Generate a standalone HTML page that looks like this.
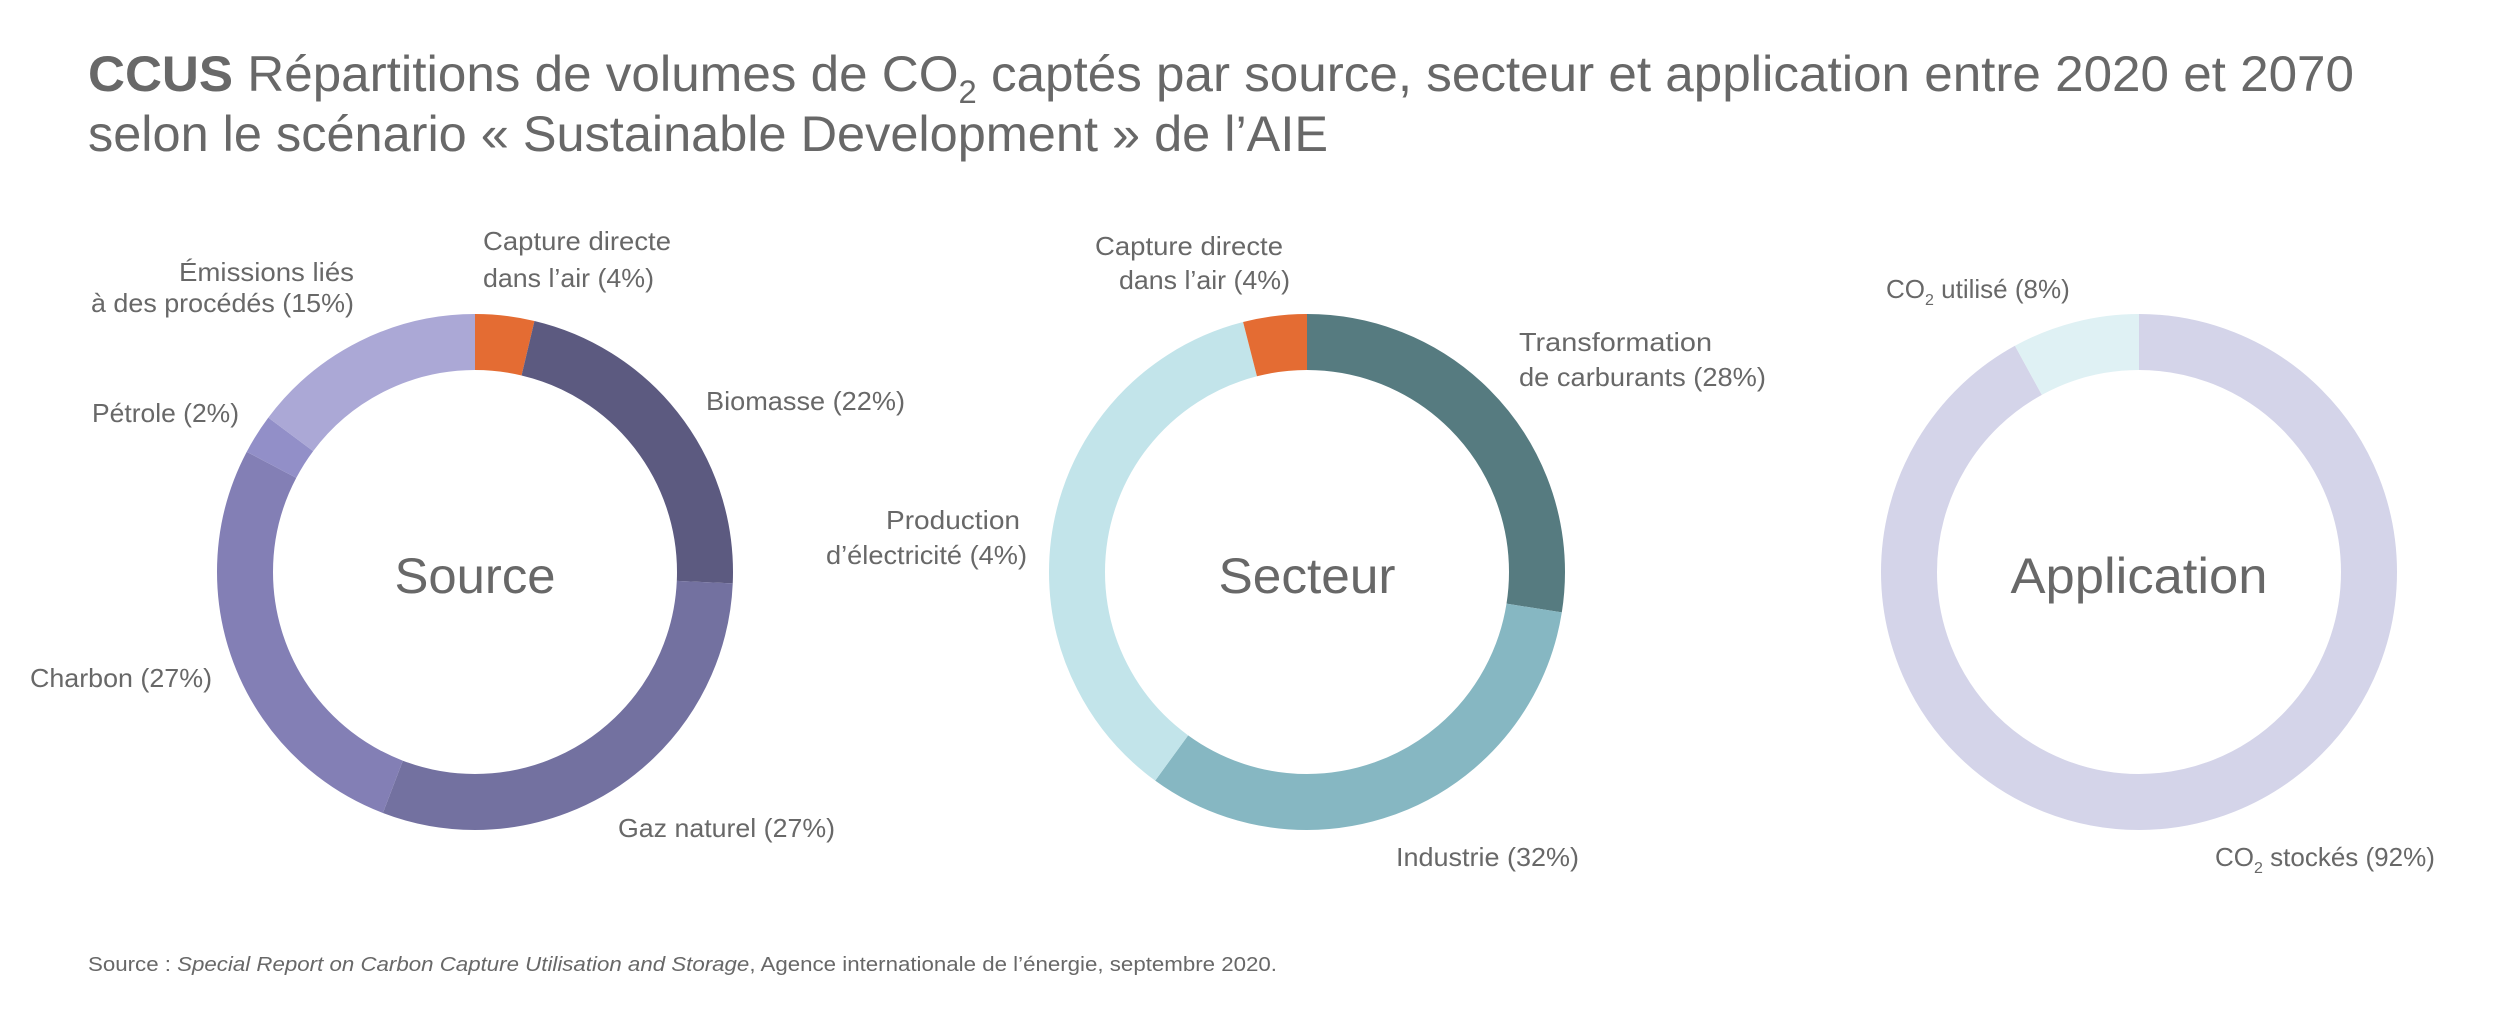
<!DOCTYPE html>
<html><head><meta charset="utf-8"><style>
html,body{margin:0;padding:0;background:#fff;}
svg{display:block;}
text{font-family:"Liberation Sans",sans-serif;fill:#686868;}
</style></head><body>
<svg width="2500" height="1011" viewBox="0 0 2500 1011" xmlns="http://www.w3.org/2000/svg">
<rect width="2500" height="1011" fill="#fff"/>
<text x="88" y="91" font-size="50" textLength="2266" lengthAdjust="spacingAndGlyphs"><tspan font-weight="bold">CCUS</tspan> Répartitions de volumes de CO<tspan font-size="32" dy="12">2</tspan><tspan dy="-12"> captés par source, secteur et application entre 2020 et 2070</tspan></text>
<text x="88" y="151" font-size="50" textLength="1240" lengthAdjust="spacingAndGlyphs">selon le scénario « Sustainable Development » de l’AIE</text>

<g fill="none" stroke-width="56">
<g transform="rotate(-90 475 572)">
<circle cx="475" cy="572" r="230" stroke="#E46C33" stroke-dasharray="53.5 2000" stroke-dashoffset="0"/>
<circle cx="475" cy="572" r="230" stroke="#5C5A80" stroke-dasharray="317.9 2000" stroke-dashoffset="-53.5"/>
<circle cx="475" cy="572" r="230" stroke="#7371A0" stroke-dasharray="435.0 2000" stroke-dashoffset="-371.4"/>
<circle cx="475" cy="572" r="230" stroke="#837FB5" stroke-dasharray="388.7 2000" stroke-dashoffset="-806.4"/>
<circle cx="475" cy="572" r="230" stroke="#928FC8" stroke-dasharray="36.1 2000" stroke-dashoffset="-1195.1"/>
<circle cx="475" cy="572" r="230" stroke="#ABA8D6" stroke-dasharray="213.9 2000" stroke-dashoffset="-1231.2"/>
</g>
<g transform="rotate(-90 1307 572)">
<circle cx="1307" cy="572" r="230" stroke="#567B80" stroke-dasharray="397.4 2000" stroke-dashoffset="0"/>
<circle cx="1307" cy="572" r="230" stroke="#86B7C2" stroke-dasharray="469.7 2000" stroke-dashoffset="-397.4"/>
<circle cx="1307" cy="572" r="230" stroke="#C2E4EA" stroke-dasharray="520.2 2000" stroke-dashoffset="-867.1"/>
<circle cx="1307" cy="572" r="230" stroke="#E46C33" stroke-dasharray="57.8 2000" stroke-dashoffset="-1387.3"/>
</g>
<g transform="rotate(-90 2139 572)">
<circle cx="2139" cy="572" r="230" stroke="#D4D4E9" stroke-dasharray="1329.5 2000" stroke-dashoffset="0"/>
<circle cx="2139" cy="572" r="230" stroke="#DFF1F4" stroke-dasharray="115.6 2000" stroke-dashoffset="-1329.5"/>
</g>
</g>

<text x="475" y="593" font-size="50" text-anchor="middle" textLength="161" lengthAdjust="spacingAndGlyphs">Source</text>
<text x="1307" y="593" font-size="50" text-anchor="middle" textLength="177" lengthAdjust="spacingAndGlyphs">Secteur</text>
<text x="2139" y="593" font-size="50" text-anchor="middle" textLength="257" lengthAdjust="spacingAndGlyphs">Application</text>

<g font-size="26">
<text x="483" y="250" textLength="188" lengthAdjust="spacingAndGlyphs">Capture directe</text>
<text x="483" y="287" textLength="171" lengthAdjust="spacingAndGlyphs">dans l’air (4%)</text>
<text x="354" y="281" text-anchor="end" textLength="175" lengthAdjust="spacingAndGlyphs">Émissions liés</text>
<text x="354" y="312" text-anchor="end" textLength="263" lengthAdjust="spacingAndGlyphs">à des procédés (15%)</text>
<text x="706" y="410" textLength="199" lengthAdjust="spacingAndGlyphs">Biomasse (22%)</text>
<text x="92" y="422" textLength="147" lengthAdjust="spacingAndGlyphs">Pétrole (2%)</text>
<text x="30" y="687" textLength="182" lengthAdjust="spacingAndGlyphs">Charbon (27%)</text>
<text x="618" y="837" textLength="217" lengthAdjust="spacingAndGlyphs">Gaz naturel (27%)</text>

<text x="1283" y="255" text-anchor="end" textLength="188" lengthAdjust="spacingAndGlyphs">Capture directe</text>
<text x="1290" y="289" text-anchor="end" textLength="171" lengthAdjust="spacingAndGlyphs">dans l’air (4%)</text>
<text x="1519" y="351" textLength="193" lengthAdjust="spacingAndGlyphs">Transformation</text>
<text x="1519" y="386" textLength="247" lengthAdjust="spacingAndGlyphs">de carburants (28%)</text>
<text x="1020" y="529" text-anchor="end" textLength="134" lengthAdjust="spacingAndGlyphs">Production</text>
<text x="1027" y="564" text-anchor="end" textLength="201" lengthAdjust="spacingAndGlyphs">d’électricité (4%)</text>
<text x="1396" y="866" textLength="183" lengthAdjust="spacingAndGlyphs">Industrie (32%)</text>

<text x="1886" y="298">CO<tspan font-size="16" dy="7">2</tspan><tspan dy="-7"> utilisé (8%)</tspan></text>
<text x="2215" y="866">CO<tspan font-size="16" dy="7">2</tspan><tspan dy="-7"> stockés (92%)</tspan></text>
</g>

<text x="88" y="971" font-size="20" textLength="1189" lengthAdjust="spacingAndGlyphs">Source : <tspan font-style="italic">Special Report on Carbon Capture Utilisation and Storage</tspan>, Agence internationale de l’énergie, septembre 2020.</text>
</svg>
</body></html>
